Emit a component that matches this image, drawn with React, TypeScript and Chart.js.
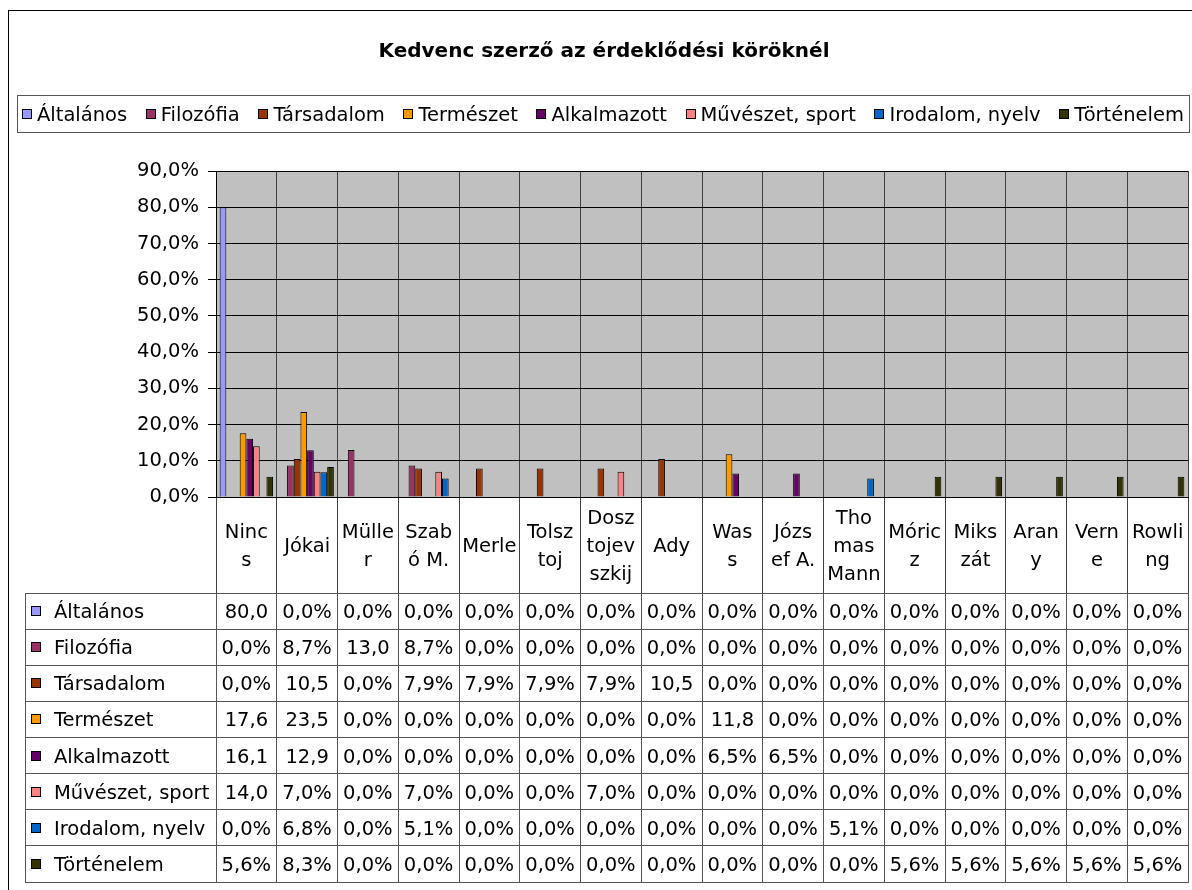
import React, { useEffect, useRef } from 'react';
import { Chart, registerables } from 'chart.js';

Chart.register(...registerables);

const TITLE = 'Kedvenc szerző az érdeklődési köröknél';

const categories: string[][] = [
  ['Ninc', 's'], ['Jókai'], ['Mülle', 'r'], ['Szab', 'ó M.'], ['Merle'], ['Tolsz', 'toj'],
  ['Dosz', 'tojev', 'szkij'], ['Ady'], ['Was', 's'], ['Józs', 'ef A.'], ['Tho', 'mas', 'Mann'],
  ['Móric', 'z'], ['Miks', 'zát'], ['Aran', 'y'], ['Vern', 'e'], ['Rowli', 'ng'],
];

const seriesNames = [
  'Általános', 'Filozófia', 'Társadalom', 'Természet', 'Alkalmazott',
  'Művészet, sport', 'Irodalom, nyelv', 'Történelem',
];

const seriesColors = [
  '#9999FF', '#993366', '#993300', '#FF9900', '#660066', '#FF8080', '#0066CC', '#333300',
];

const altalanos = [80.0, 0, 0, 0, 0, 0, 0, 0, 0, 0, 0, 0, 0, 0, 0, 0];
const filozofia = [0, 8.7, 13.0, 8.7, 0, 0, 0, 0, 0, 0, 0, 0, 0, 0, 0, 0];
const tarsadalom = [0, 10.5, 0, 7.9, 7.9, 7.9, 7.9, 10.5, 0, 0, 0, 0, 0, 0, 0, 0];
const termeszet = [17.6, 23.5, 0, 0, 0, 0, 0, 0, 11.8, 0, 0, 0, 0, 0, 0, 0];
const alkalmazott = [16.1, 12.9, 0, 0, 0, 0, 0, 0, 6.5, 6.5, 0, 0, 0, 0, 0, 0];
const muveszet = [14.0, 7.0, 0, 7.0, 0, 0, 7.0, 0, 0, 0, 0, 0, 0, 0, 0, 0];
const irodalom = [0, 6.8, 0, 5.1, 0, 0, 0, 0, 0, 0, 5.1, 0, 0, 0, 0, 0];
const tortenelem = [5.6, 8.3, 0, 0, 0, 0, 0, 0, 0, 0, 0, 5.6, 5.6, 5.6, 5.6, 5.6];

const seriesValues = [altalanos, filozofia, tarsadalom, termeszet, alkalmazott, muveszet, irodalom, tortenelem];

const yMin = 0;
const yMax = 90;
const yStep = 10;

const FAMILY = '"DejaVu Sans", sans-serif';
const FS = 19.5;

const fmt = (v: number) => v.toFixed(1).replace('.', ',') + '%';

const align = (p: number) => Math.round(p - 0.5) + 0.5;

const KEY = 10;

const drawKey = (ctx: CanvasRenderingContext2D, x: number, cy: number, color: string) => {
  const sq = KEY;
  const sx = Math.round(x);
  const sy = Math.round(cy - sq / 2);
  ctx.fillStyle = '#000';
  ctx.fillRect(sx, sy, sq, sq);
  ctx.fillStyle = color;
  ctx.fillRect(sx + 1, sy + 1, sq - 2, sq - 2);
};

const decorPlugin = {
  id: 'decor',
  beforeDraw(chart: any) {
    const ctx = chart.ctx as CanvasRenderingContext2D;
    const ca = chart.chartArea;
    ctx.save();
    ctx.fillStyle = '#ffffff';
    ctx.fillRect(0, 0, chart.width, chart.height);

    ctx.strokeStyle = '#000';
    ctx.lineWidth = 1;
    ctx.strokeRect(8.5, 10.5, 1400, 1000);

    ctx.fillStyle = '#C0C0C0';
    ctx.fillRect(ca.left, ca.top, ca.right - ca.left, ca.bottom - ca.top);

    ctx.fillStyle = '#000';
    ctx.font = `bold 20px ${FAMILY}`;
    ctx.textAlign = 'center';
    ctx.textBaseline = 'alphabetic';
    ctx.fillText(TITLE, 604, 57);

    const lx = 17, ly = 95, lr = 1189, lb = 132;
    ctx.strokeStyle = '#555';
    ctx.strokeRect(lx + 0.5, ly + 0.5, lr - lx, lb - ly);
    ctx.font = `${FS}px ${FAMILY}`;
    const sqGap = 5;
    const widths = seriesNames.map((n) => ctx.measureText(n).width);
    const itemsW = widths.reduce((a, w) => a + KEY + sqGap + w, 0);
    const margin = 5;
    const gap = (lr - lx - 2 * margin - itemsW) / (seriesNames.length - 1);
    let x = lx + margin;
    const cy = (ly + lb) / 2;
    ctx.textAlign = 'left';
    seriesNames.forEach((n, i) => {
      drawKey(ctx, x, cy, seriesColors[i]);
      ctx.fillStyle = '#000';
      ctx.fillText(n, x + KEY + sqGap, cy + 7);
      x += KEY + sqGap + widths[i] + gap;
    });
    ctx.restore();
  },
  afterDraw(chart: any) {
    const ctx = chart.ctx as CanvasRenderingContext2D;
    const ca = chart.chartArea;
    const xs = chart.scales.x;
    const n = categories.length;
    ctx.save();
    ctx.font = `${FS}px ${FAMILY}`;
    ctx.fillStyle = '#000';
    ctx.textAlign = 'center';
    ctx.textBaseline = 'alphabetic';

    const labelMid = 552;
    const lh = 28;
    categories.forEach((lines, i) => {
      const px = xs.getPixelForValue(i);
      lines.forEach((t, k) => {
        ctx.fillText(t, px, labelMid + (k - (lines.length - 1) / 2) * lh);
      });
    });

    const bounds: number[] = [ca.left];
    for (let i = 1; i < n; i++) bounds.push((xs.getPixelForValue(i - 1) + xs.getPixelForValue(i)) / 2);
    bounds.push(ca.right);

    const tTop = 593, tBottom = 882, tLeft = 25;
    const rows = seriesNames.length;
    const rh = (tBottom - tTop) / rows;
    ctx.strokeStyle = '#555';
    ctx.lineWidth = 1;
    ctx.beginPath();
    for (let r = 0; r <= rows; r++) {
      const y = align(tTop + r * rh);
      ctx.moveTo(tLeft, y);
      ctx.lineTo(ca.right + 1, y);
    }
    ctx.moveTo(align(tLeft), tTop);
    ctx.lineTo(align(tLeft), tBottom);
    bounds.forEach((b) => {
      ctx.moveTo(align(b), tTop);
      ctx.lineTo(align(b), tBottom);
    });
    ctx.stroke();

    seriesNames.forEach((name, r) => {
      const cy = tTop + (r + 0.5) * rh;
      drawKey(ctx, 31, cy, seriesColors[r]);
      ctx.fillStyle = '#000';
      ctx.textAlign = 'left';
      ctx.fillText(name, 54, cy + 7);
      ctx.textAlign = 'center';
      seriesValues[r].forEach((v, i) => {
        const cw = bounds[i + 1] - bounds[i];
        let s = fmt(v);
        if (ctx.measureText(s).width > cw - 8) s = s.replace('%', '');
        ctx.fillText(s, (bounds[i] + bounds[i + 1]) / 2, cy + 7);
      });
    });
    ctx.restore();
  },
};

export default function App() {
  const ref = useRef<HTMLCanvasElement | null>(null);
  useEffect(() => {
    if (!ref.current) return;
    const chart = new Chart(ref.current, {
      type: 'bar',
      data: {
        labels: categories.map((c) => c.join('')),
        datasets: seriesNames.map((name, i) => ({
          label: name,
          data: seriesValues[i],
          backgroundColor: seriesColors[i],
          borderColor: '#000',
          borderWidth: (c: any) => (c.raw === 0 ? 0 : 1),
          categoryPercentage: 0.88,
          barPercentage: 1.0,
        })),
      },
      options: {
        responsive: false,
        animation: false,
        devicePixelRatio: 1,
        layout: { padding: { top: 171, left: 0, right: 4, bottom: 297 } },
        plugins: {
          legend: { display: false },
          title: { display: false },
          tooltip: { enabled: false },
        },
        scales: {
          x: {
            grid: { offset: true, color: '#404040', lineWidth: 1, tickLength: 96, tickColor: '#404040', drawOnChartArea: true },
            border: { display: true, color: '#000' },
            ticks: { display: false },
            afterFit: (s: any) => { s.height = 96; },
          },
          y: {
            min: yMin,
            max: yMax,
            ticks: {
              stepSize: yStep,
              color: '#000',
              padding: 9,
              font: { family: FAMILY, size: FS },
              callback: (v: any) => fmt(Number(v)),
            },
            grid: { color: '#000', tickLength: 8, tickColor: '#000' },
            border: { display: true, color: '#000' },
            afterFit: (s: any) => { s.width = 216; },
          },
        },
      },
      plugins: [decorPlugin],
    });
    return () => chart.destroy();
  }, []);
  return (
    <div style={{ position: 'fixed', left: 0, top: 0, width: 1192, height: 890, background: '#fff' }}>
      <canvas ref={ref} width={1192} height={890} style={{ display: 'block', width: 1192, height: 890 }} />
    </div>
  );
}
